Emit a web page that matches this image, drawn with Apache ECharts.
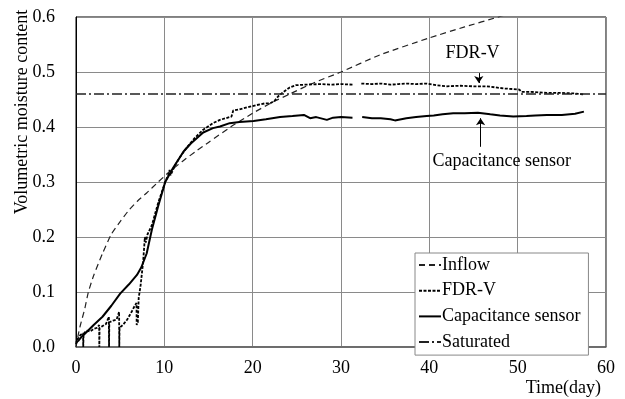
<!DOCTYPE html>
<html>
<head>
<meta charset="utf-8">
<script src="https://cdn.jsdelivr.net/npm/echarts@6/dist/echarts.min.js"></script>
<style>
  html, body { margin: 0; padding: 0; background: #fff; }
  #chart { width: 625px; height: 399px; }
</style>
</head>
<body>
<div id="chart"></div>
<script>
// Time axis (days) and moisture readings for each record
const inflowDays = [0, 0.25, 0.5, 1, 1.4, 2, 3, 4, 5, 6, 7, 8, 9.3, 10.6, 12, 13.5, 15, 17.5, 20, 22, 24.2, 27, 30, 34.4, 40, 44, 47.8, 50];
const inflowVals = [0, 0.022, 0.04, 0.07, 0.1, 0.13, 0.17, 0.205, 0.228, 0.249, 0.266, 0.28, 0.30, 0.319, 0.337, 0.355, 0.372, 0.40, 0.425, 0.443, 0.46, 0.481, 0.50, 0.531, 0.562, 0.582, 0.6, 0.611];

const fdrDays = [0, 0.2, 0.5, 0.8, 0.82, 0.86, 1.2, 1.6, 2, 2.4, 2.62, 2.64, 2.67, 3, 3.4, 3.72, 3.74, 3.77, 4.2, 4.6, 4.88, 4.9, 4.93, 5.3, 5.8, 6.3, 6.68, 6.85, 6.87, 7.0, 7.1, 7.3, 7.6, 7.8, 7.9, 8.1, 8.6, 9.3, 10.1, 10.5, 10.6, 10.7, 11.2, 11.8, 12.5, 13.5, 14.4, 15.5, 16.3, 17.6, 17.8, 18.5, 19.7, 20.5, 21.4, 22.0, 22.5, 22.9, 23.5, 24.2, 24.9, 26, 27.6, 29, 30, 31.3, 31.8, 32.3, 33.5, 34.5, 35.6, 36.5, 37.4, 38.5, 39.7, 40.8, 42, 43.5, 45, 46.5, 47.5, 48.5, 49.5, 50.2, 50.4, 51.5, 53.3, 55, 56.5, 57.5];
const fdrVals = [0.005, 0.015, 0.022, 0.025, 0.0, 0.024, 0.03, 0.028, 0.033, 0.035, 0.04, 0.0, 0.035, 0.038, 0.042, 0.055, 0.0, 0.045, 0.048, 0.05, 0.064, 0.0, 0.035, 0.04, 0.05, 0.064, 0.076, 0.08, 0.04, 0.045, 0.09, 0.11, 0.155, 0.2, 0.19, 0.205, 0.222, 0.262, 0.30, 0.315, 0.322, 0.312, 0.33, 0.346, 0.362, 0.381, 0.395, 0.407, 0.413, 0.419, 0.43, 0.432, 0.437, 0.44, 0.443, 0.443, 0.448, 0.456, 0.464, 0.472, 0.476, 0.477, 0.478, 0.477, 0.478, 0.477, null, 0.479, 0.478, 0.479, 0.477, 0.478, 0.479, 0.478, 0.479, 0.476, 0.474, 0.475, 0.474, 0.474, 0.472, 0.47, 0.469, 0.468, 0.464, 0.464, 0.462, 0.462, 0.461, 0.459];

const capDays = [0, 0.3, 0.6, 1, 2, 3, 4, 5, 6, 6.9, 7.4, 8, 8.6, 9.3, 10.1, 11, 11.8, 12.2, 13, 14.4, 15.5, 16.3, 17.4, 18.5, 20.1, 21.5, 23.1, 24.5, 25.8, 26.5, 27.2, 28.4, 29.1, 30, 31.3, 31.8, 32.4, 33.5, 34.5, 35.6, 36.1, 37.4, 38.5, 39.7, 40.5, 41.5, 42.7, 44, 45.5, 46.9, 48, 49.5, 51, 52, 53.3, 55, 56.5, 57.5];
const capVals = [0.008, 0.012, 0.018, 0.024, 0.04, 0.055, 0.075, 0.097, 0.114, 0.131, 0.145, 0.17, 0.214, 0.256, 0.30, 0.326, 0.346, 0.356, 0.37, 0.39, 0.398, 0.401, 0.407, 0.409, 0.411, 0.414, 0.418, 0.42, 0.422, 0.416, 0.418, 0.413, 0.417, 0.418, 0.417, null, 0.418, 0.416, 0.416, 0.414, 0.412, 0.416, 0.418, 0.42, 0.421, 0.423, 0.425, 0.425, 0.426, 0.423, 0.421, 0.419, 0.42, 0.421, 0.422, 0.422, 0.424, 0.428];

const saturatedDays = [0, 60];
const saturatedVals = [0.46, 0.46];

const seriesNames = ['Inflow', 'FDR-V', 'Capacitance sensor', 'Saturated'];
const xTicks = { min: 0, max: 60, interval: 10 };
const yTicks = { min: 0, max: 0.6, interval: 0.1 };

const FONT = 'Liberation Serif, Times New Roman, serif';
const pairs = (xs, ys) => xs.map((x, i) => [x, ys[i]]);

const chart = echarts.init(document.getElementById('chart'), null, { renderer: 'canvas' });

// thin pointer with a filled head at the "to" end
const arrowLine = (x, yFrom, yTo) => ({
  silent: true,
  symbol: ['none', 'arrow'],
  symbolSize: 7,
  label: { show: false },
  emphasis: { disabled: true },
  lineStyle: { color: '#000', width: 1, type: 'solid' },
  itemStyle: { color: '#000' },
  data: [[{ coord: [x, yFrom] }, { coord: [x, yTo] }]]
});

const noteLabel = (text, x, y) => ({
  silent: true,
  symbol: 'circle',
  symbolSize: 1,
  itemStyle: { color: 'rgba(0,0,0,0)' },
  label: { show: true, position: 'inside', formatter: text, color: '#000', fontFamily: FONT, fontSize: 18 },
  data: [{ coord: [x, y] }]
});

chart.setOption({
  animation: false,
  backgroundColor: '#fff',
  grid: { left: 76, right: 19, top: 17, bottom: 52, show: true, borderColor: '#000', borderWidth: 1, backgroundColor: 'transparent' },
  xAxis: {
    type: 'value', min: xTicks.min, max: xTicks.max, interval: xTicks.interval,
    axisLine: { show: true, lineStyle: { color: '#666', width: 1.5 } },
    axisTick: { show: false },
    axisLabel: { color: '#000', fontFamily: FONT, fontSize: 18, margin: 12 },
    splitLine: { show: true, lineStyle: { color: '#8a8a8a', width: 1 } }
  },
  yAxis: {
    type: 'value', min: yTicks.min, max: yTicks.max, interval: yTicks.interval,
    axisLine: { show: true, lineStyle: { color: '#000', width: 1 } },
    axisTick: { show: false },
    axisLabel: { color: '#000', fontFamily: FONT, fontSize: 18, margin: 21, formatter: v => v.toFixed(1) },
    splitLine: { show: true, lineStyle: { color: '#8a8a8a', width: 1 } }
  },
  legend: {
    data: seriesNames,
    orient: 'vertical',
    left: 415, top: 253,
    padding: [3, 8, 4, 3],
    itemGap: 7.7, itemWidth: 22, itemHeight: 14,
    backgroundColor: '#fff',
    borderColor: '#888', borderWidth: 1,
    itemStyle: { opacity: 0, borderWidth: 0 },
    textStyle: { color: '#000', fontFamily: FONT, fontSize: 18, padding: [0, 0, 0, -4] }
  },
  graphic: [
    { type: 'text', x: 22, y: 112, rotation: Math.PI / 2,
      style: { text: 'Volumetric moisture content', fill: '#000', font: '18px ' + FONT, textAlign: 'center', textVerticalAlign: 'middle' } },
    { type: 'text', x: 601, y: 388,
      style: { text: 'Time(day)', fill: '#000', font: '18px ' + FONT, textAlign: 'right', textVerticalAlign: 'middle' } }
  ],
  series: [
    {
      name: seriesNames[0], type: 'line', symbol: 'none', smooth: 0.2,
      data: pairs(inflowDays, inflowVals),
      lineStyle: { color: '#222', width: 1.2, type: [6, 4] },
      itemStyle: { color: '#222' }
    },
    {
      name: seriesNames[1], type: 'line', symbol: 'none',
      data: pairs(fdrDays, fdrVals),
      lineStyle: { color: '#000', width: 1.8, type: [3, 1.5] },
      itemStyle: { color: '#000' },
      markLine: arrowLine(45.6, 0.498, 0.480),
      markPoint: noteLabel('FDR-V', 44.9, 0.5345)
    },
    {
      name: seriesNames[2], type: 'line', symbol: 'none',
      data: pairs(capDays, capVals),
      lineStyle: { color: '#000', width: 2 },
      itemStyle: { color: '#000' },
      markLine: arrowLine(45.8, 0.364, 0.416),
      markPoint: noteLabel('Capacitance sensor', 48.2, 0.338)
    },
    {
      name: seriesNames[3], type: 'line', symbol: 'none',
      data: pairs(saturatedDays, saturatedVals),
      lineStyle: { color: '#222', width: 1.3, type: [10, 3, 2, 3] },
      itemStyle: { color: '#222' }
    }
  ]
});
</script>
</body>
</html>
